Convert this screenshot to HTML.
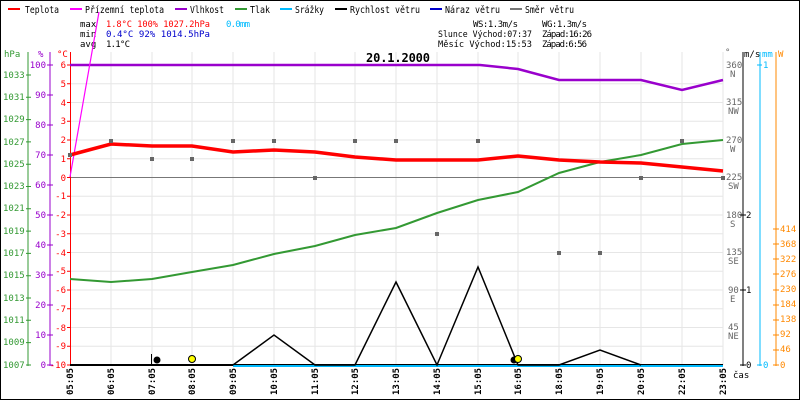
<!DOCTYPE html>
<html><head><meta charset="utf-8"><style>
body{margin:0;background:#fff}
svg{display:block;font-family:"DejaVu Sans Mono","Liberation Mono",monospace;font-size:9px}
</style></head><body>
<svg width="800" height="400" viewBox="0 0 800 400" xmlns="http://www.w3.org/2000/svg">
<rect x="0.5" y="0.5" width="799" height="399" fill="#fff" stroke="#000"/>
<!-- legend -->
<g font-size="10">
<rect x="8" y="8" width="12" height="2" fill="#f00"/><text x="25" y="13" textLength="34" lengthAdjust="spacingAndGlyphs">Teplota</text>
<rect x="70" y="8" width="12" height="2" fill="#f0f"/><text x="85" y="13" textLength="79" lengthAdjust="spacingAndGlyphs">Přízemní teplota</text>
<rect x="175" y="8" width="12" height="2" fill="#90c"/><text x="190" y="13" textLength="34" lengthAdjust="spacingAndGlyphs">Vlhkost</text>
<rect x="235" y="8" width="12" height="2" fill="#393"/><text x="250" y="13" textLength="20" lengthAdjust="spacingAndGlyphs">Tlak</text>
<rect x="280" y="8" width="12" height="2" fill="#0bf"/><text x="295" y="13" textLength="29" lengthAdjust="spacingAndGlyphs">Srážky</text>
<rect x="335" y="8" width="12" height="2" fill="#000"/><text x="350" y="13" textLength="70" lengthAdjust="spacingAndGlyphs">Rychlost větru</text>
<rect x="430" y="8" width="12" height="2" fill="#00c"/><text x="445" y="13" textLength="55" lengthAdjust="spacingAndGlyphs">Náraz větru</text>
<rect x="510" y="8" width="12" height="2" fill="#777"/><text x="525" y="13" textLength="49" lengthAdjust="spacingAndGlyphs">Směr větru</text>
</g>
<g font-size="9">
<text x="80" y="27">max</text><text x="106" y="27" fill="#f00" textLength="104" lengthAdjust="spacingAndGlyphs">1.8°C 100%  1027.2hPa</text><text x="226" y="27" fill="#0bf" textLength="24">0.0mm</text>
<text x="80" y="37">min</text><text x="106" y="37" fill="#00c" textLength="104" lengthAdjust="spacingAndGlyphs">0.4°C  92%  1014.5hPa</text>
<text x="80" y="47">avg</text><text x="106" y="47" textLength="24">1.1°C</text>
<text x="473" y="27" textLength="45">WS:1.3m/s</text><text x="542" y="27" textLength="45">WG:1.3m/s</text>
<text x="438" y="37" textLength="94" lengthAdjust="spacingAndGlyphs">Slunce Východ:07:37</text><text x="542" y="37" textLength="50">Západ:16:26</text>
<text x="438" y="47" textLength="94" lengthAdjust="spacingAndGlyphs">Měsíc  Východ:15:53</text><text x="542" y="47" textLength="45">Západ:6:56</text>
</g>
<!-- grid -->
<g stroke="#e6e6e6" stroke-width="1">
<path d="M111 52V365M152 52V365M192 52V365M233 52V365M274 52V365M315 52V365M355 52V365M396 52V365M437 52V365M478 52V365M518 52V365M559 52V365M600 52V365M641 52V365M682 52V365M723 52V365"/>
<path d="M70 83.75H723M70 102.5H723M70 121.25H723M70 140H723M70 158.75H723M70 196.25H723M70 215H723M70 233.75H723M70 252.5H723M70 271.25H723M70 290H723M70 308.75H723M70 327.5H723M70 346.25H723"/>
</g>
<text x="398" y="62" font-size="12" font-weight="bold" text-anchor="middle" textLength="64">20.1.2000</text>
<line x1="70" y1="177.5" x2="723" y2="177.5" stroke="#777"/>
<!-- left axes -->
<g font-size="9">
<line x1="28" y1="52" x2="28" y2="366" stroke="#393"/>
<path d="M26 75H31M26 97.3H31M26 119.6H31M26 141.9H31M26 164.2H31M26 186.5H31M26 208.8H31M26 231.1H31M26 253.4H31M26 275.7H31M26 298H31M26 320.3H31M26 342.6H31M26 365H31" stroke="#393"/>
<text x="4" y="57" fill="#393">hPa</text>
<g fill="#393">
<text x="3" y="78">1033</text><text x="3" y="100">1031</text><text x="3" y="122">1029</text><text x="3" y="145">1027</text><text x="3" y="167">1025</text><text x="3" y="189">1023</text><text x="3" y="211">1021</text><text x="3" y="234">1019</text><text x="3" y="256">1017</text><text x="3" y="278">1015</text><text x="3" y="301">1013</text><text x="3" y="323">1011</text><text x="3" y="345">1009</text><text x="3" y="368">1007</text>
</g>
<line x1="50" y1="52" x2="50" y2="366" stroke="#90c"/>
<path d="M47 65H53M47 95H53M47 125H53M47 155H53M47 185H53M47 215H53M47 245H53M47 275H53M47 305H53M47 335H53M47 365H53" stroke="#90c"/>
<text x="38" y="57" fill="#90c">%</text>
<g fill="#90c" text-anchor="end">
<text x="46" y="68">100</text><text x="46" y="98">90</text><text x="46" y="128">80</text><text x="46" y="158">70</text><text x="46" y="188">60</text><text x="46" y="218">50</text><text x="46" y="248">40</text><text x="46" y="278">30</text><text x="46" y="308">20</text><text x="46" y="338">10</text><text x="46" y="368">0</text>
</g>
<line x1="70.5" y1="52" x2="70.5" y2="366" stroke="#f00"/>
<path d="M67 65H70M67 83.75H70M67 102.5H70M67 121.25H70M67 140H70M67 158.75H70M67 177.5H70M67 196.25H70M67 215H70M67 233.75H70M67 252.5H70M67 271.25H70M67 290H70M67 308.75H70M67 327.5H70M67 346.25H70M67 365H70" stroke="#f00"/>
<text x="57" y="57" fill="#f00">°C</text>
<g fill="#f00" text-anchor="end">
<text x="66" y="68">6</text><text x="66" y="87">5</text><text x="66" y="106">4</text><text x="66" y="124">3</text><text x="66" y="143">2</text><text x="66" y="162">1</text><text x="66" y="181">0</text><text x="66" y="199">-1</text><text x="66" y="218">-2</text><text x="66" y="237">-3</text><text x="66" y="256">-4</text><text x="66" y="274">-5</text><text x="66" y="293">-6</text><text x="66" y="312">-7</text><text x="66" y="331">-8</text><text x="66" y="349">-9</text><text x="66" y="368">-10</text>
</g>
</g>
<!-- right axes -->
<g font-size="9" fill="#666">
<text x="725" y="55">°</text>
<text x="726" y="68">360</text><text x="730" y="77">N</text>
<text x="726" y="105">315</text><text x="728" y="114">NW</text>
<text x="726" y="143">270</text><text x="730" y="152">W</text>
<text x="726" y="180">225</text><text x="728" y="189">SW</text>
<text x="726" y="218">180</text><text x="730" y="227">S</text>
<text x="726" y="255">135</text><text x="728" y="264">SE</text>
<text x="728" y="293">90</text><text x="730" y="302">E</text>
<text x="728" y="330">45</text><text x="728" y="339">NE</text>
</g>
<line x1="743" y1="52" x2="743" y2="366" stroke="#000"/>
<text x="744" y="57">m/s</text>
<text x="746" y="218">2</text><text x="746" y="293">1</text><text x="746" y="368">0</text>
<path d="M740 215H746M740 290H746M740 365H746" stroke="#000"/>
<line x1="760" y1="52" x2="760" y2="366" stroke="#0bf"/>
<path d="M757 65H762M757 365H762" stroke="#0bf"/>
<text x="762" y="57" fill="#0bf">mm</text>
<text x="763" y="68" fill="#0bf">1</text><text x="763" y="368" fill="#0bf">0</text>
<line x1="776" y1="52" x2="776" y2="366" stroke="#f80"/>
<path d="M773 229H779M773 244H779M773 259H779M773 274H779M773 290H779M773 305H779M773 320H779M773 335H779M773 350H779M773 365H779" stroke="#f80"/>
<text x="778" y="57" fill="#f80">W</text>
<g fill="#f80" font-size="9">
<text x="780" y="232">414</text><text x="780" y="247">368</text><text x="780" y="262">322</text><text x="780" y="277">276</text><text x="780" y="292">230</text><text x="780" y="307">184</text><text x="780" y="322">138</text><text x="780" y="337">92</text><text x="780" y="352">46</text><text x="780" y="368">0</text>
</g>
<!-- series -->
<line x1="70" y1="365" x2="723" y2="365" stroke="#000" stroke-width="2"/>
<line x1="233" y1="366" x2="723" y2="366" stroke="#0bf" stroke-width="2"/>
<polyline fill="none" stroke="#000" stroke-width="1.5" points="233,365 274,335 315,365 355,365 396,282 437,365 478,267 518,365 559,365 600,350 641,365"/>
<polyline fill="none" stroke="#393" stroke-width="2" points="70,279 111,282 152,279 192,272 233,265 274,254 315,246 355,235 396,228 437,213 478,200 518,192 559,173 600,162 641,155 682,144 723,140"/>
<polyline fill="none" stroke="#90c" stroke-width="2.5" points="70,65 480,65 518,69 559,80 641,80 682,90 723,80"/>
<line x1="70" y1="177" x2="99" y2="12" stroke="#f0f" stroke-width="1.2"/>
<polyline fill="none" stroke="#f00" stroke-width="3.5" points="70,155 111,144 152,146 192,146 233,152 274,150 315,152 355,157 396,160 437,160 478,160 518,156 559,160 600,162 641,163 682,167 723,171"/>
<g fill="#666">
<rect x="68" y="153" width="4" height="4"/><rect x="109" y="139" width="4" height="4"/><rect x="150" y="157" width="4" height="4"/><rect x="190" y="157" width="4" height="4"/><rect x="231" y="139" width="4" height="4"/><rect x="272" y="139" width="4" height="4"/><rect x="313" y="176" width="4" height="4"/><rect x="353" y="139" width="4" height="4"/><rect x="394" y="139" width="4" height="4"/><rect x="435" y="232" width="4" height="4"/><rect x="476" y="139" width="4" height="4"/><rect x="557" y="251" width="4" height="4"/><rect x="598" y="251" width="4" height="4"/><rect x="639" y="176" width="4" height="4"/><rect x="680" y="139" width="4" height="4"/><rect x="721" y="176" width="4" height="4"/>
</g>
<line x1="151.5" y1="354" x2="151.5" y2="366" stroke="#000"/>
<circle cx="157" cy="360" r="3.5" fill="#000"/>
<circle cx="192" cy="359" r="3.5" fill="#ff0" stroke="#000"/>
<circle cx="514" cy="360" r="3.5" fill="#000"/>
<circle cx="518" cy="359" r="3.5" fill="#ff0" stroke="#000"/>
<!-- x labels -->
<g font-size="9" font-weight="bold">
<text transform="translate(73,395) rotate(-90)">05:05</text>
<text transform="translate(114,395) rotate(-90)">06:05</text>
<text transform="translate(155,395) rotate(-90)">07:05</text>
<text transform="translate(195,395) rotate(-90)">08:05</text>
<text transform="translate(236,395) rotate(-90)">09:05</text>
<text transform="translate(277,395) rotate(-90)">10:05</text>
<text transform="translate(318,395) rotate(-90)">11:05</text>
<text transform="translate(358,395) rotate(-90)">12:05</text>
<text transform="translate(399,395) rotate(-90)">13:05</text>
<text transform="translate(440,395) rotate(-90)">14:05</text>
<text transform="translate(481,395) rotate(-90)">15:05</text>
<text transform="translate(521,395) rotate(-90)">16:05</text>
<text transform="translate(562,395) rotate(-90)">18:05</text>
<text transform="translate(603,395) rotate(-90)">19:05</text>
<text transform="translate(644,395) rotate(-90)">20:05</text>
<text transform="translate(685,395) rotate(-90)">22:05</text>
<text transform="translate(726,395) rotate(-90)">23:05</text>
</g>
<text x="733" y="378" font-size="9">čas</text>
</svg>
</body></html>
